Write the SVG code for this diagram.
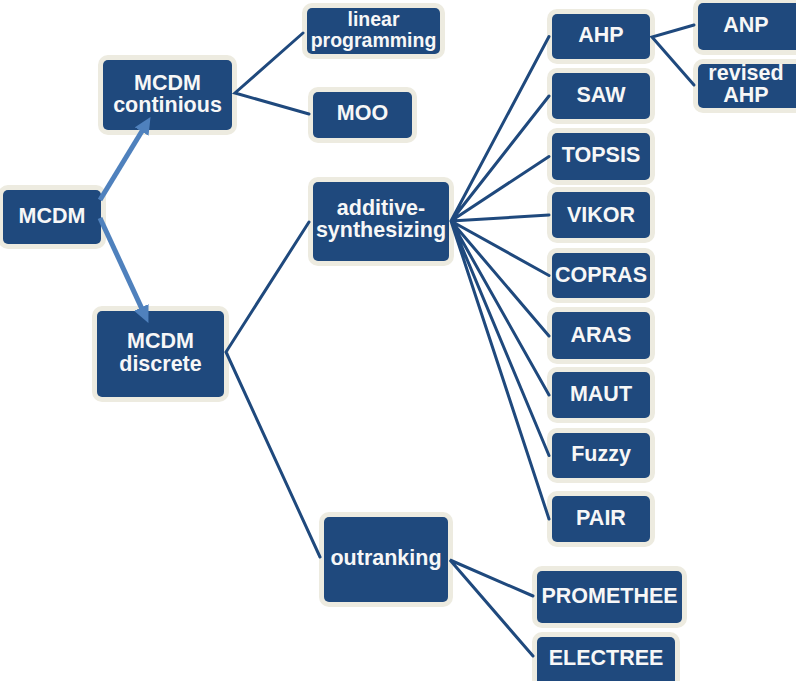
<svg xmlns="http://www.w3.org/2000/svg" width="796" height="681" viewBox="0 0 796 681">
<style>
.b{fill:#1F497D;stroke:#EDEBE0;stroke-width:10;paint-order:stroke;}
.t{font-family:"Liberation Sans",Arial,sans-serif;font-weight:bold;font-size:21.5px;fill:#F7F7F7;text-anchor:middle;}
.s{font-size:19.5px;}
.c{stroke:#1F497D;stroke-width:3;fill:none;stroke-linecap:round;}
.a{stroke:#4F81BD;stroke-width:5;fill:none;marker-end:url(#ah);}
</style>
<defs>
<marker id="ah" markerUnits="userSpaceOnUse" markerWidth="18" markerHeight="16" refX="6" refY="8" orient="auto">
<path d="M0,0 L17,8 L0,16 z" fill="#4F81BD"/>
</marker>
</defs>
<rect width="796" height="681" fill="#FFFFFF"/>
<g id="n-mcdm"><rect class="b" x="3" y="190" width="98" height="54" rx="5"/><text class="t" x="52" y="223">MCDM</text></g>
<g id="n-cont"><rect class="b" x="103" y="60" width="129" height="70" rx="5"/><text class="t" x="167.5" y="90">MCDM<tspan x="167.5" dy="22">continious</tspan></text></g>
<g id="n-disc"><rect class="b" x="97" y="311" width="127" height="86" rx="5"/><text class="t" x="160.5" y="348">MCDM<tspan x="160.5" dy="23">discrete</tspan></text></g>
<g id="n-lp"><rect class="b" x="307" y="8" width="133" height="46" rx="5"/><text class="t s" x="373.5" y="26">linear<tspan x="373.5" dy="21">programming</tspan></text></g>
<g id="n-moo"><rect class="b" x="313" y="92" width="99" height="46" rx="5"/><text class="t" x="362.5" y="120">MOO</text></g>
<g id="n-add"><rect class="b" x="313" y="182" width="136" height="79" rx="5"/><text class="t" x="381" y="215">additive-<tspan x="381" dy="22">synthesizing</tspan></text></g>
<g id="n-out"><rect class="b" x="324" y="517" width="124" height="85" rx="5"/><text class="t" x="386" y="565">outranking</text></g>
<g id="n-ahp"><rect class="b" x="552" y="14" width="98" height="45" rx="5"/><text class="t" x="601" y="42">AHP</text></g>
<g id="n-saw"><rect class="b" x="552" y="73" width="98" height="46" rx="5"/><text class="t" x="601" y="102">SAW</text></g>
<g id="n-topsis"><rect class="b" x="552" y="133" width="98" height="47" rx="5"/><text class="t" x="601" y="162">TOPSIS</text></g>
<g id="n-vikor"><rect class="b" x="552" y="192" width="98" height="46" rx="5"/><text class="t" x="601" y="221.5">VIKOR</text></g>
<g id="n-copras"><rect class="b" x="552" y="253" width="98" height="45" rx="5"/><text class="t" x="601" y="282">COPRAS</text></g>
<g id="n-aras"><rect class="b" x="552" y="312" width="98" height="47" rx="5"/><text class="t" x="601" y="341.5">ARAS</text></g>
<g id="n-maut"><rect class="b" x="552" y="372" width="98" height="46" rx="5"/><text class="t" x="601" y="400.5">MAUT</text></g>
<g id="n-fuzzy"><rect class="b" x="552" y="433" width="98" height="45" rx="5"/><text class="t" x="601" y="461">Fuzzy</text></g>
<g id="n-pair"><rect class="b" x="552" y="496" width="98" height="46" rx="5"/><text class="t" x="601" y="525">PAIR</text></g>
<g id="n-anp"><rect class="b" x="698" y="3" width="104" height="47" rx="5"/><text class="t" x="746" y="32">ANP</text></g>
<g id="n-rahp"><rect class="b" x="698" y="64" width="104" height="44" rx="5"/><text class="t" x="746" y="80">revised<tspan x="746" dy="22">AHP</tspan></text></g>
<g id="n-prom"><rect class="b" x="537" y="571" width="145" height="52" rx="5"/><text class="t" x="609.5" y="603">PROMETHEE</text></g>
<g id="n-elec"><rect class="b" x="537" y="637" width="138" height="48" rx="5"/><text class="t" x="606" y="665">ELECTREE</text></g>
<g id="connectors">
<path class="c" d="M303,33 L235,93 L309,114"/>
<path class="c" d="M309,222 L226,352 L320,557"/>
<path class="c" d="M549,36.5 L451,221 M549,96 L451,221 M549,156.5 L451,221 M549,215 L451,221 M549,275.5 L451,221 M549,336 L451,221 M549,395 L451,221 M549,455.5 L451,221 M549,519 L451,221"/>
<path class="c" d="M533,596 L450,560 L533,656"/>
<path class="c" d="M694,25 L652,37 L694,85"/>
<path class="a" d="M100,200 L144.8,126.5"/>
<path class="a" d="M100,218 L143.8,312.9"/>
</g>
</svg>
